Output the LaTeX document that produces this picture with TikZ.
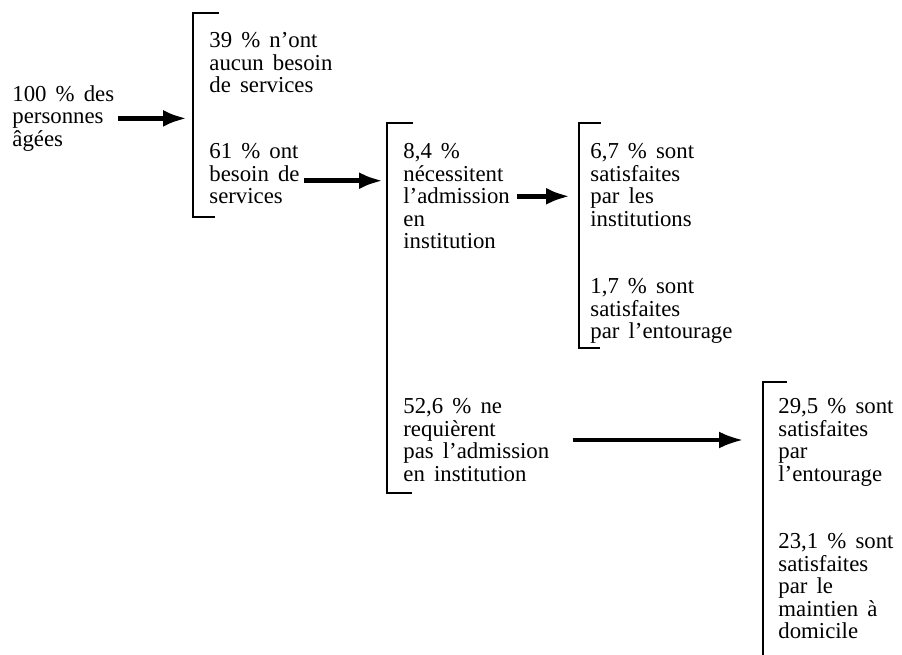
\documentclass[tikz,border=0pt]{standalone}
\usepackage{fontspec}
\setmainfont{Liberation Serif}
\usetikzlibrary{arrows.meta}
\newcommand\widespace{\spaceskip=0.4em\relax}
\begin{document}
\begin{tikzpicture}[x=0.5pt,y=-0.5pt,
	txt/.style={anchor=north west,inner sep=0pt,align=left,font=\fontsize{11.4}{11.3}\selectfont\widespace},
	brk/.style={line width=0.75pt},
	arr/.style={line width=2.5pt,-{Latex[length=12pt,width=8.5pt]}}]
	\useasboundingbox (0,0) rectangle (902,655);
	
	% texte
	\node[txt] (all) at (12,85) {100 \% des\\personnes\\âgées};
	\node[txt] (none) at (209,32) {39 \% n'ont\\aucun besoin\\de services};
	\node[txt] (need) at (209,143) {61 \% ont\\besoin de\\services};
	\node[txt] (inst) at (403,143) {8,4 \%\\nécessitent\\l'admission\\en\\institution};
	\node[txt] (instA) at (590,143) {6,7 \% sont\\satisfaites\\par les\\institutions};
	\node[txt] (instB) at (590,278) {1,7 \% sont\\satisfaites\\par l'entourage};
	\node[txt] (home) at (403,398) {52,6 \% ne\\requièrent\\pas l'admission\\en institution};
	\node[txt] (homeA) at (778,398) {29,5 \% sont\\satisfaites\\par\\l'entourage};
	\node[txt] (homeB) at (778,533) {23,1 \% sont\\satisfaites\\par le\\maintien à\\domicile};
	
	% crochets
	\coordinate (b1) at (193,13);
	\coordinate (b2) at (387,123);
	\coordinate (b3) at (579,123);
	\coordinate (b4) at (763,382);
	\draw[brk] (219,13) -| (b1) -- (193,217) -- (215,217);
	\draw[brk] (413,123) -| (b2) -- (387,493) -- (412,493);
	\draw[brk] (601,123) -| (b3) -- (579,348) -- (600,348);
	\draw[brk] (787,382) -| (b4) -- (763,665);
	
	% fleches
	\draw[arr] ([xshift=1.5pt]all.east) -- ([xshift=-3pt]b1 |- all.east);
	\draw[arr] ([shift={(2pt,-3.5pt)}]need.east) -- ([shift={(-2pt,-3.5pt)}]b2 |- need.east);
	\draw[arr] ([xshift=3.5pt]inst.east) -- ([xshift=-4.5pt]b3 |- inst.east);
	\draw[arr,line width=1.8pt] ([xshift=11.5pt]home.east) -- ([xshift=-10pt]b4 |- home.east);
\end{tikzpicture}
\end{document}
